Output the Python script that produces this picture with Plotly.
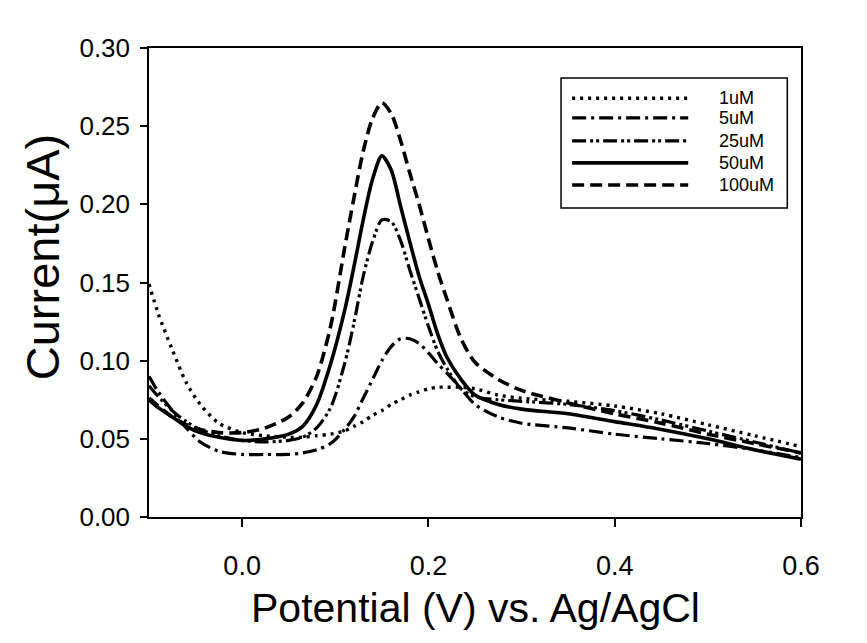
import plotly.graph_objects as go

# ---- data ----
potential = [-0.10, -0.09, -0.075, -0.06, -0.045, -0.025, 0.0, 0.025, 0.05, 0.065, 0.08, 0.095,
             0.11, 0.12, 0.13, 0.14, 0.15, 0.16, 0.17, 0.18, 0.19, 0.20, 0.21, 0.22, 0.235,
             0.25, 0.275, 0.30, 0.35, 0.40, 0.45, 0.50, 0.55, 0.60]

i_1uM = [0.149, 0.130, 0.107, 0.086, 0.072, 0.060, 0.054, 0.052, 0.051, 0.051, 0.052, 0.053,
         0.055, 0.058, 0.061, 0.065, 0.068, 0.072, 0.075, 0.078, 0.080, 0.082, 0.083, 0.083,
         0.083, 0.082, 0.078, 0.076, 0.074, 0.071, 0.066, 0.059, 0.052, 0.045]
i_5uM = [0.090, 0.080, 0.068, 0.057, 0.048, 0.042, 0.040, 0.040, 0.040, 0.041, 0.043, 0.047,
         0.056, 0.064, 0.076, 0.088, 0.100, 0.109, 0.114, 0.114, 0.111, 0.105, 0.098, 0.092,
         0.082, 0.072, 0.064, 0.060, 0.057, 0.053, 0.050, 0.047, 0.043, 0.038]
i_25uM = [0.084, 0.077, 0.068, 0.061, 0.056, 0.052, 0.049, 0.048, 0.049, 0.051, 0.057, 0.070,
          0.098, 0.124, 0.154, 0.176, 0.190, 0.189, 0.177, 0.158, 0.140, 0.122, 0.106, 0.095,
          0.082, 0.077, 0.075, 0.074, 0.072, 0.068, 0.062, 0.055, 0.048, 0.041]
i_50uM = [0.075, 0.070, 0.064, 0.058, 0.054, 0.051, 0.049, 0.050, 0.053, 0.058, 0.072, 0.098,
          0.132, 0.160, 0.190, 0.216, 0.231, 0.222, 0.199, 0.176, 0.154, 0.136, 0.117, 0.102,
          0.088, 0.078, 0.072, 0.069, 0.066, 0.061, 0.056, 0.050, 0.043, 0.037]
i_100uM = [0.076, 0.071, 0.064, 0.059, 0.056, 0.054, 0.054, 0.057, 0.064, 0.073, 0.090, 0.122,
           0.172, 0.204, 0.234, 0.255, 0.265, 0.258, 0.241, 0.220, 0.200, 0.178, 0.157, 0.139,
           0.114, 0.099, 0.088, 0.081, 0.073, 0.066, 0.060, 0.053, 0.047, 0.041]

series_names = ["1uM", "5uM", "25uM", "50uM", "100uM"]
series_values = [i_1uM, i_5uM, i_25uM, i_50uM, i_100uM]

x_tickvals = [0.0, 0.2, 0.4, 0.6]
x_ticktext = ["0.0", "0.2", "0.4", "0.6"]
y_tickvals = [0.00, 0.05, 0.10, 0.15, 0.20, 0.25, 0.30]
y_ticktext = ["0.00", "0.05", "0.10", "0.15", "0.20", "0.25", "0.30"]

x_title = "Potential (V) vs. Ag/AgCl"
y_title = "Current(μA)"

# ---- styles ----
dashes = ["3px,5px", "14px,5px,3px,5px", "14px,4px,3px,3px,3px,4px", "solid", "12px,6px"]
widths = [3.4, 3.2, 3.2, 3.6, 3.6]

FONT = "Liberation Sans, Arial, sans-serif"

fig = go.Figure()
for name, vals, d, w in zip(series_names, series_values, dashes, widths):
    fig.add_trace(go.Scatter(x=potential, y=vals, mode="lines", name=name,
                             line=dict(color="black", width=w, dash=d, shape="spline",
                                       smoothing=0.8),
                             showlegend=False))

# ---- custom legend (box, sample lines, labels) in paper coordinates ----
fig.add_shape(type="rect", xref="paper", yref="paper", x0=0.632, x1=0.979, y0=0.659, y1=0.936,
              line=dict(color="black", width=1.5), fillcolor="white", layer="above")
row_y = [0.893, 0.851, 0.802, 0.755, 0.708]
for name, d, w, yy in zip(series_names, dashes, widths, row_y):
    fig.add_shape(type="line", xref="paper", yref="paper", x0=0.649, x1=0.827, y0=yy, y1=yy,
                  line=dict(color="black", width=w, dash=d), layer="above")
    fig.add_annotation(xref="paper", yref="paper", x=0.871, y=yy, text=name, showarrow=False,
                       xanchor="left", yanchor="middle",
                       font=dict(family=FONT, size=18, color="black"))

# ---- axis titles ----
fig.add_annotation(xref="paper", yref="paper", x=0.5, y=-0.195, text=x_title, showarrow=False,
                   xanchor="center", yanchor="middle",
                   font=dict(family=FONT, size=41, color="black"))
fig.add_annotation(xref="paper", yref="paper", x=-0.164, y=0.554, text=y_title, showarrow=False,
                   xanchor="center", yanchor="middle", textangle=-90,
                   font=dict(family=FONT, size=47, color="black"))

# page body adds an 8px offset, so the figure is drawn 8px smaller
fig.update_layout(
    width=859, height=635,
    margin=dict(l=141, r=66, t=40, b=126, autoexpand=False),
    paper_bgcolor="white", plot_bgcolor="white",
    showlegend=False,
)
fig.update_xaxes(range=[-0.1, 0.6], tickvals=x_tickvals, ticktext=x_ticktext,
                 showline=True, linecolor="black", linewidth=1.5, mirror=True,
                 ticks="outside", ticklen=8, tickwidth=1.5, tickcolor="black",
                 showgrid=False, zeroline=False, ticklabelstandoff=16, automargin=False,
                 tickfont=dict(family=FONT, size=27, color="black"))
fig.update_yaxes(range=[0, 0.30], tickvals=y_tickvals, ticktext=y_ticktext,
                 showline=True, linecolor="black", linewidth=1.5, mirror=True,
                 ticks="outside", ticklen=7, tickwidth=1.5, tickcolor="black",
                 showgrid=False, zeroline=False, ticklabelstandoff=5, automargin=False,
                 tickfont=dict(family=FONT, size=26, color="black"))

fig.write_html("out.html")
